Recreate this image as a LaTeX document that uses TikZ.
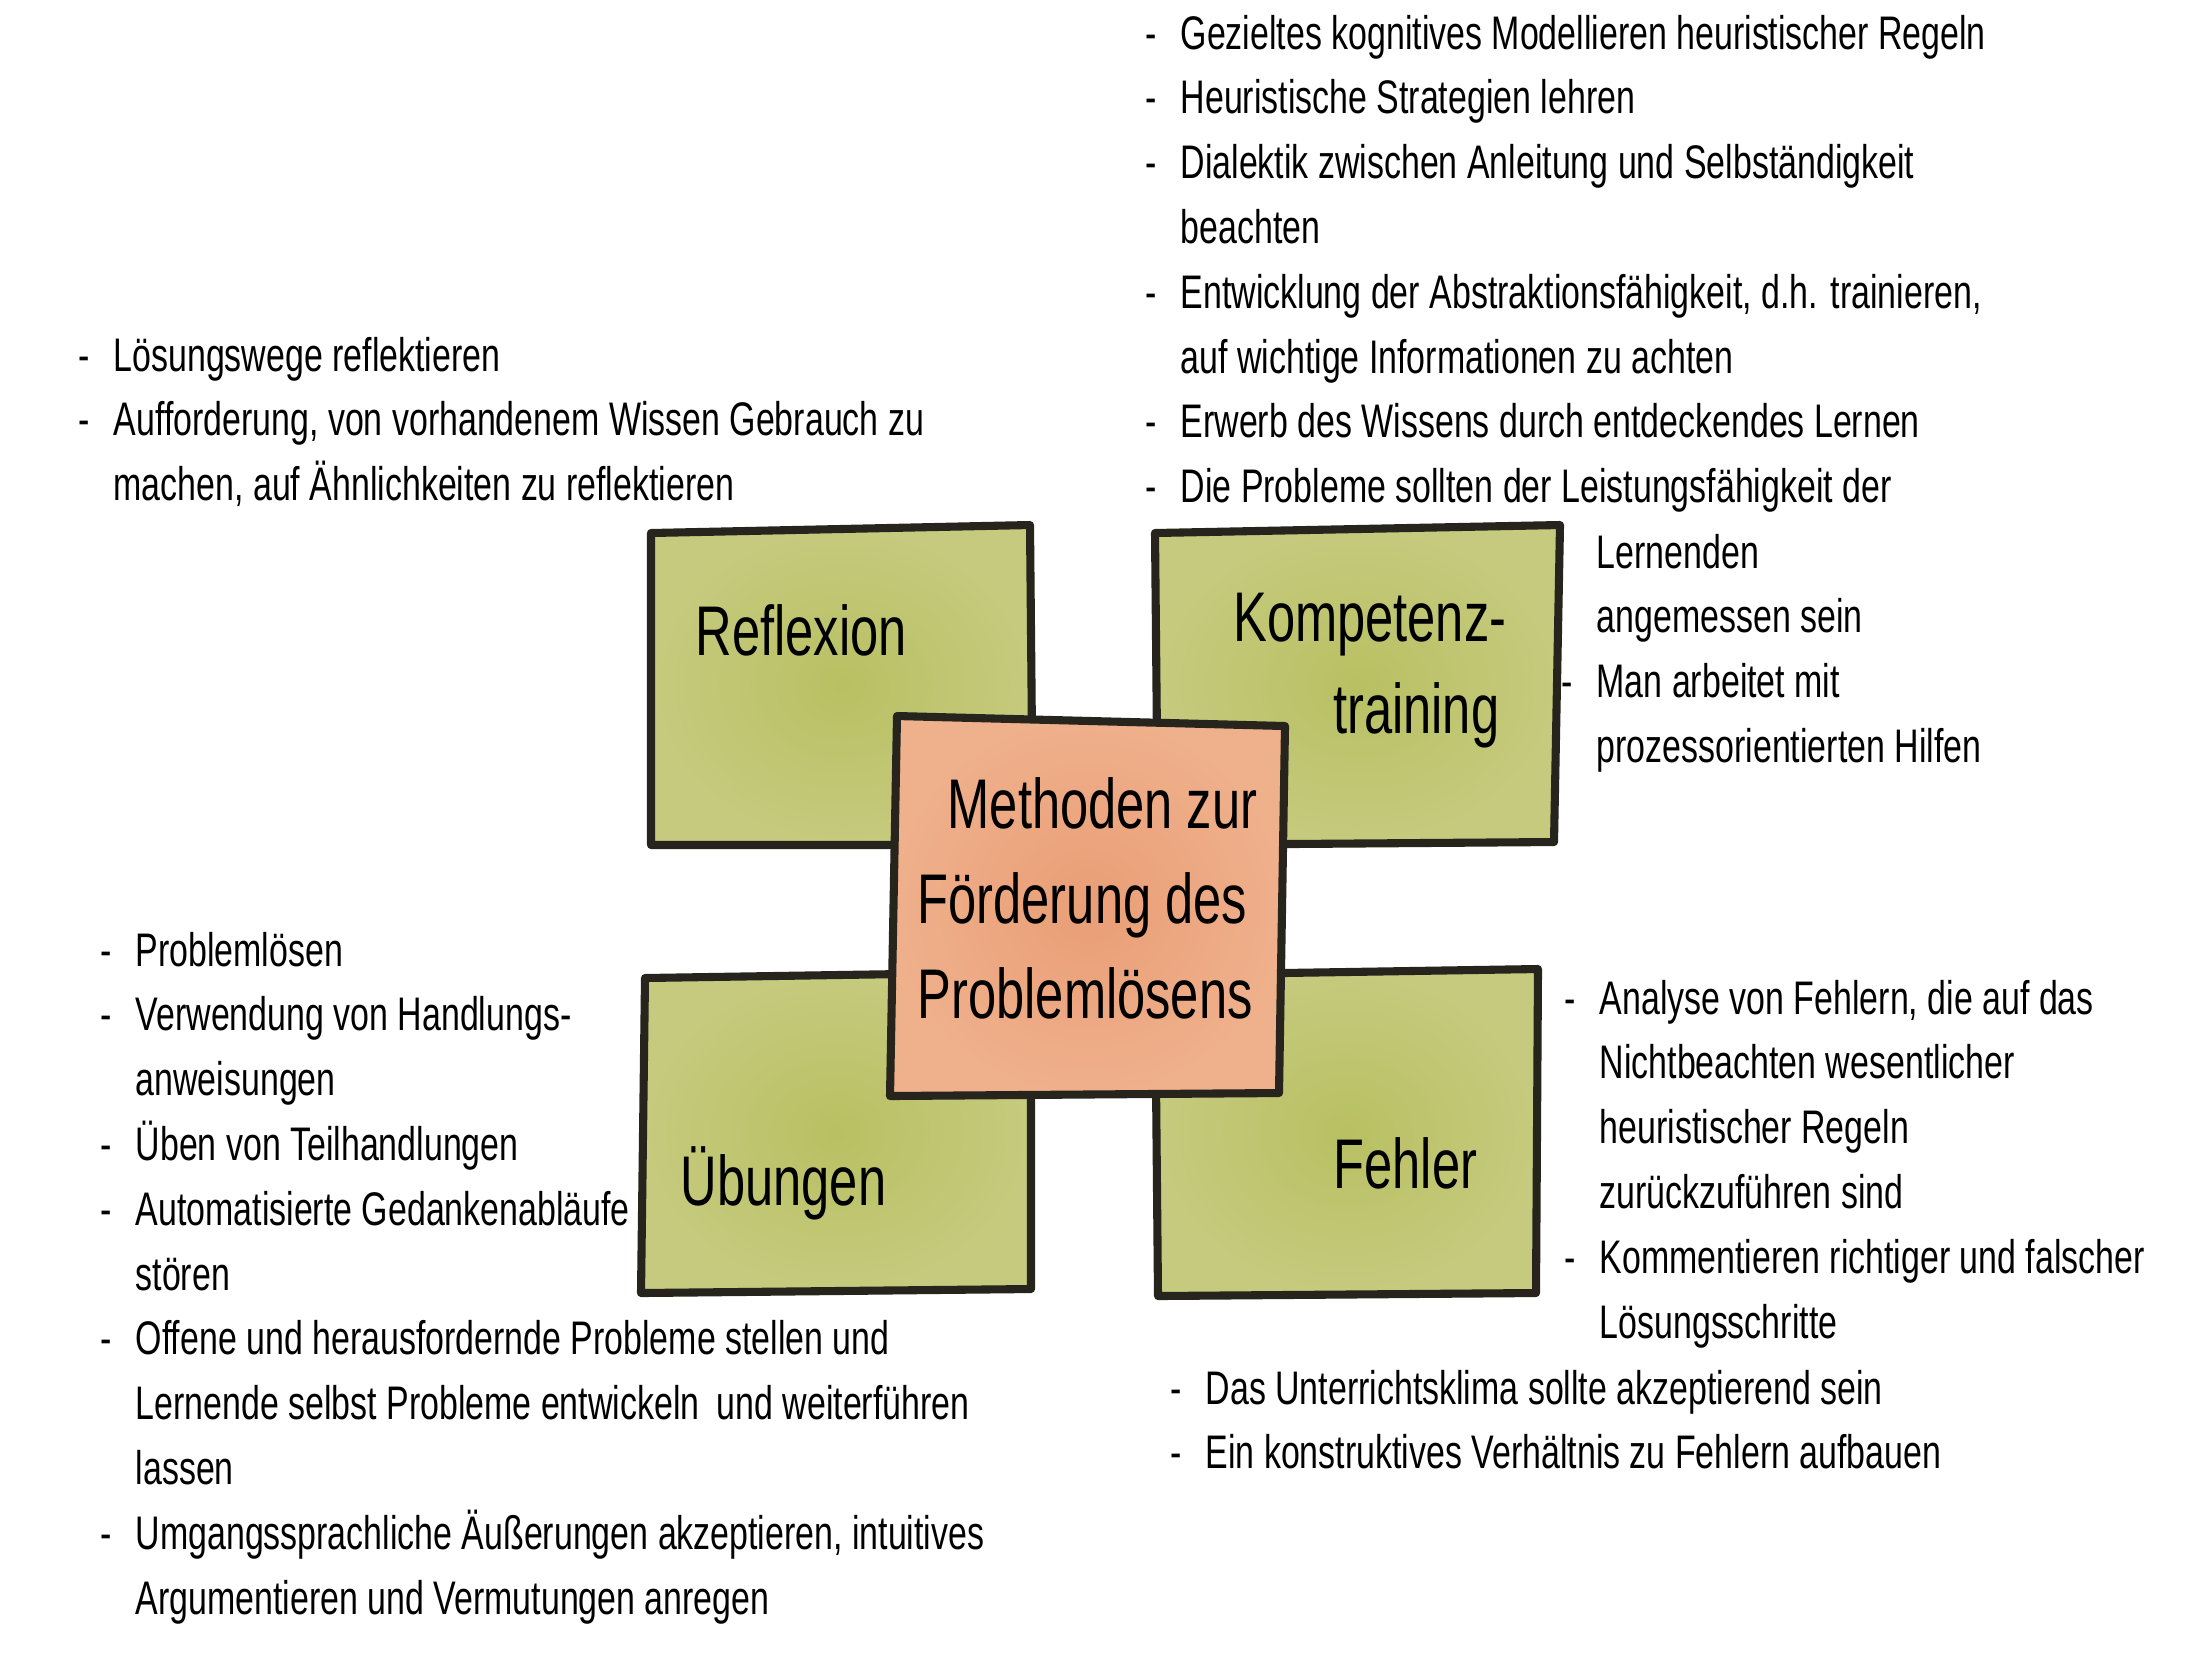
\documentclass[tikz,border=0pt]{standalone}
\usepackage{fontspec}
\setmainfont{Liberation Sans}[FakeStretch=0.72]
\usepackage{tikz}

\definecolor{tinte}{RGB}{38,36,28}
\definecolor{olivhell}{RGB}{198,202,126}
\definecolor{olivdunkel}{RGB}{184,192,98}
\definecolor{orangehell}{RGB}{239,176,140}
\definecolor{orangedunkel}{RGB}{233,158,118}

\newcommand\strich{\llap{-\hspace{0.24cm}}}
\newcommand\koerperschrift{\fontsize{13.4}{18.44}\selectfont}
\newcommand\titelschrift{\fontsize{20}{24}\selectfont}

\tikzset{
    % gruene Felder
    greenbox/.style={
        draw=tinte,
        line width=2.3pt,
        line join=round,
        line cap=round,
        inner color=olivdunkel,
        outer color=olivhell
    },
    % mittleres Feld
    orangebox/.style={
        draw=tinte,
        line width=2.3pt,
        line join=round,
        line cap=round,
        inner color=orangedunkel,
        outer color=orangehell
    },
    titel/.style={inner sep=0pt, font=\titelschrift},
    zeile/.style={anchor=base west, inner sep=0pt, font=\koerperschrift}
}

\begin{document}
\begin{tikzpicture}[x=0.01cm,y=-0.01cm]
	\useasboundingbox (0,0) rectangle (2209,1665);
	
	% Felder
	\draw[greenbox] (651,533) -- (1030,525) -- (1033,845) -- (651,845) -- cycle;
	\draw[greenbox] (1155,533) -- (1560,525) -- (1554,842) -- (1158,845) -- cycle;
	\draw[greenbox] (645,978) -- (1031,972) -- (1031,1289) -- (641,1293) -- cycle;
	\draw[greenbox] (1155,975) -- (1538,969) -- (1536,1293) -- (1158,1296) -- cycle;
	\draw[orangebox] (897,716) -- (1285,726) -- (1279,1093) -- (890,1096) -- cycle;
	
	% Titel
	\node[titel, anchor=base west] (reflexion) at (695,655) {Reflexion};
	\node[titel, anchor=base east] (kompetenz) at (1507,641) {Kompetenz-};
	\node[titel, anchor=base east] (training) at (1500,733) {training};
	\node[titel, anchor=base west] (methoden) at (947,828) {Methoden zur};
	\node[titel, anchor=base west] (foerderung) at (917,923) {Förderung des};
	\node[titel, anchor=base west] (problemloesens) at (917,1018) {Problemlösens};
	\node[titel, anchor=base west] (uebungen) at (680,1205) {Übungen};
	\node[titel, anchor=base west] (fehler) at (1333,1188) {Fehler};
	
	% Kompetenztraining
	\foreach \z [count=\i from 0] in {
		{\strich Gezieltes kognitives Modellieren heuristischer Regeln},
		{\strich Heuristische Strategien lehren},
		{\strich Dialektik zwischen Anleitung und Selbständigkeit},
		{beachten},
		{\strich Entwicklung der Abstraktionsfähigkeit, d.h. trainieren,},
		{auf wichtige Informationen zu achten},
		{\strich Erwerb des Wissens durch entdeckendes Lernen},
		{\strich Die Probleme sollten der Leistungsfähigkeit der}}
		\node[zeile] (kt\i) at (1180,{49+64.8*\i}) {\z};
	\foreach \z [count=\i from 0] in {
		{Lernenden},
		{angemessen sein},
		{\strich Man arbeitet mit},
		{prozessorientierten Hilfen}}
		\node[zeile] (ktb\i) at (1596,{568+64.8*\i}) {\z};
	
	% Reflexion
	\foreach \z [count=\i from 0] in {
		{\strich Lösungswege reflektieren},
		{\strich Aufforderung, von vorhandenem Wissen Gebrauch zu},
		{machen, auf Ähnlichkeiten zu reflektieren}}
		\node[zeile] (re\i) at (113,{371+64.8*\i}) {\z};
	
	% Uebungen
	\foreach \z [count=\i from 0] in {
		{\strich Problemlösen},
		{\strich Verwendung von Handlungs-},
		{anweisungen},
		{\strich Üben von Teilhandlungen},
		{\strich Automatisierte Gedankenabläufe},
		{stören},
		{\strich Offene und herausfordernde Probleme stellen und},
		{Lernende selbst Probleme entwickeln\, und weiterführen},
		{lassen},
		{\strich Umgangssprachliche Äußerungen akzeptieren, intuitives},
		{Argumentieren und Vermutungen anregen}}
		\node[zeile] (ue\i) at (135,{966+64.8*\i}) {\z};
	
	% Fehler
	\foreach \z [count=\i from 0] in {
		{\strich Analyse von Fehlern, die auf das},
		{Nichtbeachten wesentlicher},
		{heuristischer Regeln},
		{zurückzuführen sind},
		{\strich Kommentieren richtiger und falscher},
		{Lösungsschritte}}
		\node[zeile] (fe\i) at (1599,{1014+64.8*\i}) {\z};
	\foreach \z [count=\i from 0] in {
		{\strich Das Unterrichtsklima sollte akzeptierend sein},
		{\strich Ein konstruktives Verhältnis zu Fehlern aufbauen}}
		\node[zeile] (feb\i) at (1205,{1404+64.8*\i}) {\z};
\end{tikzpicture}
\end{document}
